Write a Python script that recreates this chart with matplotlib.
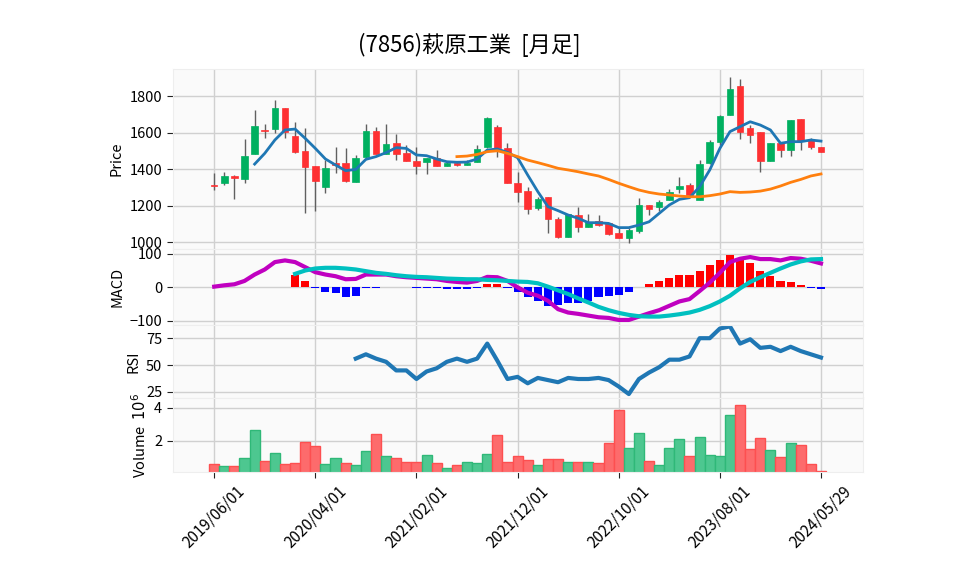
import numpy as np
import matplotlib.pyplot as plt
from matplotlib.ticker import FixedLocator

plt.rcParams['font.family'] = ['Noto Sans CJK JP', 'DejaVu Sans']

# monthly candles, 2019/06 .. 2024/05
opens = [1314, 1325, 1362, 1347, 1484, 1615, 1619, 1732, 1581, 1499,
         1416, 1303, 1431, 1431, 1329, 1468, 1608, 1482, 1541, 1486,
         1444, 1440, 1458, 1418, 1431, 1424, 1440, 1519, 1628, 1513,
         1321, 1279, 1184, 1248, 1126, 1030, 1148, 1084, 1113, 1106,
         1048, 1024, 1062, 1205, 1190, 1230, 1289, 1314, 1230, 1435,
         1549, 1696, 1855, 1623, 1605, 1446, 1541, 1504, 1674, 1559, 1518]
highs = [1380, 1385, 1370, 1563, 1723, 1645, 1778, 1732, 1659, 1627,
         1416, 1449, 1522, 1513, 1477, 1645, 1632, 1645, 1592, 1532,
         1522, 1462, 1504, 1446, 1446, 1449, 1532, 1687, 1641, 1541,
         1385, 1303, 1248, 1248, 1139, 1152, 1190, 1152, 1148, 1106,
         1075, 1077, 1241, 1205, 1230, 1293, 1358, 1321, 1449, 1560,
         1696, 1902, 1891, 1641, 1605, 1544, 1541, 1669, 1674, 1568, 1518]
lows = [1285, 1312, 1234, 1321, 1484, 1568, 1595, 1572, 1490, 1157,
        1172, 1270, 1380, 1330, 1329, 1459, 1482, 1482, 1449, 1446,
        1371, 1371, 1418, 1418, 1418, 1424, 1440, 1513, 1464, 1321,
        1221, 1151, 1178, 1048, 1020, 1030, 1053, 1084, 1090, 1040,
        1020, 994, 1049, 1150, 1168, 1230, 1266, 1254, 1230, 1430,
        1530, 1696, 1563, 1541, 1382, 1446, 1468, 1473, 1504, 1508, 1495]
closes = [1307, 1362, 1353, 1471, 1636, 1610, 1732, 1605, 1495, 1413,
          1336, 1404, 1422, 1336, 1458, 1608, 1482, 1537, 1482, 1446,
          1418, 1462, 1418, 1435, 1422, 1435, 1508, 1678, 1513, 1325,
          1276, 1180, 1236, 1126, 1030, 1152, 1084, 1111, 1093, 1044,
          1024, 1066, 1205, 1183, 1219, 1272, 1307, 1257, 1426, 1547,
          1689, 1837, 1605, 1586, 1446, 1544, 1504, 1669, 1555, 1522, 1495]
volumes = [0.59, 0.48, 0.48, 0.97, 2.67, 0.77, 1.25, 0.59, 0.65, 1.92,
           1.70, 0.59, 0.97, 0.65, 0.53, 1.39, 2.40, 1.09, 0.97, 0.71,
           0.71, 1.15, 0.65, 0.36, 0.55, 0.73, 0.67, 1.21, 2.34, 0.71,
           1.07, 0.83, 0.55, 0.89, 0.89, 0.71, 0.71, 0.71, 0.65, 1.86,
           3.86, 1.56, 2.46, 0.77, 0.55, 1.56, 2.10, 1.07, 2.22, 1.13,
           1.07, 3.56, 4.16, 1.49, 2.16, 1.43, 1.01, 1.86, 1.74, 0.59, 0.18]

nan = np.nan
ma5 = [nan, nan, nan, nan, 1427, 1486, 1559, 1614, 1619, 1568,
       1513, 1455, 1422, 1391, 1398, 1453, 1468, 1490, 1517, 1513,
       1477, 1473, 1455, 1440, 1437, 1438, 1455, 1504, 1510, 1491,
       1462, 1367, 1276, 1194, 1172, 1148, 1130, 1106, 1106, 1102,
       1079, 1079, 1093, 1111, 1157, 1203, 1234, 1243, 1303, 1395,
       1513, 1605, 1632, 1659, 1641, 1614, 1541, 1550, 1550, 1559, 1553]
ma25 = [nan] * 24 + [1468, 1471, 1480, 1495, 1500, 1486,
                     1468, 1449, 1435, 1420, 1404, 1395, 1385, 1373, 1362, 1343,
                     1322, 1303, 1285, 1272, 1263, 1258, 1252, 1248, 1248, 1254,
                     1263, 1276, 1272, 1274, 1279, 1290, 1307, 1327, 1343, 1362, 1373]

macd = [2, 6, 9, 19, 38, 53, 75, 80, 75, 60,
        45, 38, 33, 24, 25, 38, 38, 38, 33, 30,
        28, 26, 24, 19, 16, 14, 19, 31, 30, 19,
        0, -16, -25, -40, -65, -75, -79, -84, -89, -91,
        -97, -97, -87, -77, -68, -55, -42, -35, -11, 14,
        43, 75, 85, 90, 84, 84, 80, 87, 85, 79, 71]
signal = [nan] * 8 + [40, 50,
          56, 58, 58, 56, 53, 48, 43, 40, 36, 33,
          31, 30, 28, 26, 25, 24, 24, 22, 21, 19,
          17, 16, 12, 2, -9, -20, -33, -45, -58, -68,
          -76, -82, -86, -87, -87, -84, -80, -75, -67, -56,
          -42, -25, -3, 16, 30, 43, 56, 68, 77, 83, 84]
hist = [nan] * 8 + [36, 18,
        -1, -13, -18, -28, -25, -3, -3, 2, 2, 0,
        -2, -2, -3, -5, -5, -5, -3, 11, 11, -1,
        -13, -28, -40, -57, -53, -48, -48, -40, -30, -25,
        -22, -13, 0, 11, 20, 28, 38, 38, 50, 66,
        80, 97, 87, 72, 50, 35, 20, 16, 6, -1, -6]
rsi = [nan] * 14 + [56, 60, 56, 53, 45, 45,
       37, 44, 47, 53, 56, 53, 56, 70, 54, 37,
       39, 33, 38, 36, 34, 38, 37, 37, 38, 36,
       30, 23, 37, 43, 48, 55, 55, 58, 75, 75,
       84, 86, 70, 74, 66, 67, 63, 67, 63, 60, 57]

tick_pos = [0, 10, 20, 30, 40, 50, 60]
tick_labels = ['2019/06/01', '2020/04/01', '2021/02/01', '2021/12/01',
               '2022/10/01', '2023/08/01', '2024/05/29']

x = np.arange(len(closes))
o = np.array(opens); c = np.array(closes)
h = np.array(highs); l = np.array(lows)

up_c, dn_c = '#00b060', '#fe3032'
vup, vdn = '#4dc790', '#fd6b6c'
grid_c = '#d0d0d0'

fig = plt.figure(figsize=(9.58, 5.75), dpi=100)
L, W = 0.1803, 0.7205
ax1 = fig.add_axes([L, 0.5670, W, 0.3130])
ax2 = fig.add_axes([L, 0.4348, W, 0.1322], sharex=ax1)
ax3 = fig.add_axes([L, 0.3078, W, 0.1270], sharex=ax1)
ax4 = fig.add_axes([L, 0.1791, W, 0.1287], sharex=ax1)

for ax in (ax1, ax2, ax3, ax4):
    ax.set_facecolor('#fafafa')
    ax.grid(True, color=grid_c, lw=1)
    ax.set_axisbelow(True)
    for s in ax.spines.values():
        s.set_color('#eeeeee')
    ax.tick_params(labelsize=10.5, length=4, color='#222222')
    ax.xaxis.set_major_locator(FixedLocator(tick_pos))
for ax in (ax1, ax2, ax3):
    ax.tick_params(axis='x', length=0, labelbottom=False)

# candles
is_up = c >= o
cols = np.where(is_up, up_c, dn_c)
ax1.vlines(x, l, h, color='#606060', lw=1, zorder=2)
ax1.bar(x, np.maximum(np.abs(c - o), 3), bottom=np.minimum(o, c), width=0.65,
        color=cols, edgecolor=cols, lw=0.5, zorder=3)
ax1.plot(x, ma5, color='#1f77b4', lw=2, zorder=4)
ax1.plot(x, ma25, color='#ff7f0e', lw=2, zorder=4)
ax1.set_ylim(962, 1948)
ax1.set_yticks([1000, 1200, 1400, 1600, 1800])
ax1.set_ylabel('Price', fontsize=10.5)

# MACD
hv = np.array(hist, dtype=float)
ax2.bar(x, hv, width=0.8, color=np.where(hv >= 0, 'red', 'blue'), zorder=2)
ax2.plot(x, macd, color='#c000c0', lw=3, zorder=3)
ax2.plot(x, signal, color='#00c0c0', lw=3, zorder=3)
ax2.set_ylim(-112, 114)
ax2.set_yticks([-100, 0, 100])
ax2.set_ylabel('MACD', fontsize=10.5)

# RSI
ax3.plot(x, rsi, color='#1f77b4', lw=3)
ax3.set_ylim(19.3, 87.3)
ax3.set_yticks([25, 50, 75])
ax3.set_ylabel('RSI', fontsize=10.5)

# volume
prev = np.concatenate([[o[0]], c[:-1]])
vcols = np.where(c >= prev, vup, vdn)
vecols = np.where(c >= prev, '#2fb878', '#fd4f50')
ax4.bar(x, volumes, width=1.0, color=vcols, edgecolor=vecols, lw=1, zorder=2)
ax4.set_ylim(0.12, 4.6)
ax4.set_yticks([2, 4])
ax4.set_ylabel('Volume  $10^{6}$', fontsize=10.5)
ax4.set_xticks(tick_pos)
ax4.set_xticklabels(tick_labels, rotation=45, ha='center', fontsize=11)

ax1.set_xlim(-4.1, 64.15)

fig.text(0.49, 0.922, '(7856)萩原工業  [月足]', fontsize=16, ha='center', va='center')

fig.savefig('out.png', dpi=100)
